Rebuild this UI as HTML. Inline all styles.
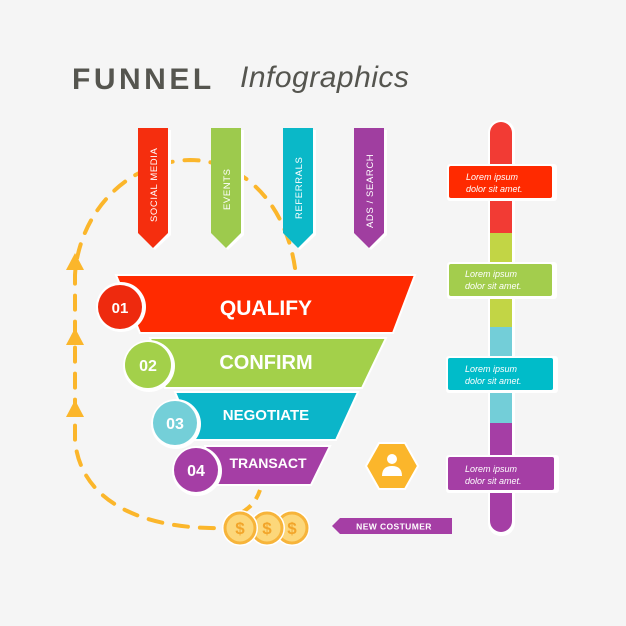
<!DOCTYPE html>
<html><head><meta charset="utf-8"><style>
html,body{margin:0;padding:0;background:#f5f5f5;}
svg{display:block;}
text{font-family:"Liberation Sans",sans-serif;}
</style></head><body>
<svg width="626" height="626" viewBox="0 0 626 626" xmlns="http://www.w3.org/2000/svg">
<rect width="626" height="626" fill="#f5f5f5"/>
<text x="72" y="89" font-size="30" font-weight="bold" fill="#55554f" letter-spacing="3.5">FUNNEL</text>
<text x="240" y="87" font-size="30" font-style="italic" font-family="Liberation Serif, serif" fill="#55554f" letter-spacing="0.5">Infographics</text>

<!-- dashed loop -->
<path d="M295 268 C285 200 240 160 190 160 C120 162 78 220 75 275 L75 440 C80 500 140 530 225 528" fill="none" stroke="#fbb62b" stroke-width="4" stroke-dasharray="14 12" stroke-linecap="round"/>
<path d="M260 490 C255 505 245 512 235 515" fill="none" stroke="#fbb62b" stroke-width="4" stroke-dasharray="10 8"/>
<polygon points="75,253 66,270 84,270" fill="#fbb62b"/>
<polygon points="75,328 66,345 84,345" fill="#fbb62b"/>
<polygon points="75,400 66,417 84,417" fill="#fbb62b"/>

<!-- tabs -->
<g>
<polygon points="140,130 171,130 171,235 155,250 140,235" fill="#fff"/>
<polygon points="138,128 168,128 168,233 153,248 138,233" fill="#f52e0e"/>
<text transform="translate(157,222) rotate(-90)" font-size="9.5" fill="#fff" letter-spacing="0.6">SOCIAL MEDIA</text>
<polygon points="213,130 244,130 244,235 228,250 213,235" fill="#fff"/>
<polygon points="211,128 241,128 241,233 226,248 211,233" fill="#9dca4d"/>
<text transform="translate(230,210) rotate(-90)" font-size="9.5" fill="#fff" letter-spacing="0.6">EVENTS</text>
<polygon points="285,130 316,130 316,235 300,250 285,235" fill="#fff"/>
<polygon points="283,128 313,128 313,233 298,248 283,233" fill="#0ab8c8"/>
<text transform="translate(302,219) rotate(-90)" font-size="9.5" fill="#fff" letter-spacing="0.6">REFERRALS</text>
<polygon points="356,130 387,130 387,235 371,250 356,235" fill="#fff"/>
<polygon points="354,128 384,128 384,233 369,248 354,233" fill="#a03ea0"/>
<text transform="translate(373,228) rotate(-90)" font-size="9.5" fill="#fff" letter-spacing="0.6">ADS / SEARCH</text>
</g>

<!-- funnel -->
<polygon points="116,275 415,275 393,333 140,333" fill="#ff2a00" stroke="#fff" stroke-width="2"/>
<polygon points="150,338 386,338 362,388 165,388" fill="#a3d04a" stroke="#fff" stroke-width="2"/>
<polygon points="175,392 358,392 336,440 195,440" fill="#0bb5c9" stroke="#fff" stroke-width="2"/>
<polygon points="205,446 330,446 311,485 215,485" fill="#a53ea5" stroke="#fff" stroke-width="2"/>
<text x="266" y="315" font-size="21" font-weight="bold" fill="#fff" text-anchor="middle">QUALIFY</text>
<text x="266" y="369" font-size="20" font-weight="bold" fill="#fff" text-anchor="middle">CONFIRM</text>
<text x="266" y="420" font-size="15" font-weight="bold" fill="#fff" text-anchor="middle">NEGOTIATE</text>
<text x="268" y="468" font-size="14" font-weight="bold" fill="#fff" text-anchor="middle">TRANSACT</text>

<circle cx="121" cy="307" r="25" fill="#fff"/><circle cx="120" cy="307" r="22" fill="#ee2a0e"/>
<text x="120" y="313" font-size="15" font-weight="bold" fill="#fff" text-anchor="middle">01</text>
<circle cx="149" cy="366" r="26" fill="#fff"/><circle cx="148" cy="365" r="23" fill="#a3d04a"/>
<text x="148" y="371" font-size="16" font-weight="bold" fill="#fff" text-anchor="middle">02</text>
<circle cx="176" cy="424" r="25" fill="#fff"/><circle cx="175" cy="423" r="22" fill="#74cfd8"/>
<text x="175" y="429" font-size="16" font-weight="bold" fill="#fff" text-anchor="middle">03</text>
<circle cx="197" cy="471" r="25" fill="#fff"/><circle cx="196" cy="470" r="22" fill="#a53ea5"/>
<text x="196" y="476" font-size="16" font-weight="bold" fill="#fff" text-anchor="middle">04</text>

<!-- hexagon -->
<polygon points="379,443 405,443 418,466 405,489 379,489 366,466" fill="#fbb62b" stroke="#fff" stroke-width="2"/>
<circle cx="392" cy="459" r="5" fill="#fff"/>
<path d="M382 476 Q382 466 392 466 Q402 466 402 476 Z" fill="#fff"/>

<!-- coins -->
<g font-size="17" font-weight="bold" fill="#f2a52a" text-anchor="middle">
<circle cx="292" cy="528" r="18" fill="#fff"/><circle cx="292" cy="528" r="15" fill="#fcd77a" stroke="#f7b43a" stroke-width="3"/><text x="292" y="534">$</text>
<circle cx="267" cy="528" r="18" fill="#fff"/><circle cx="267" cy="528" r="15" fill="#fcd77a" stroke="#f7b43a" stroke-width="3"/><text x="267" y="534">$</text>
<circle cx="240" cy="528" r="18" fill="#fff"/><circle cx="240" cy="528" r="15" fill="#fcd77a" stroke="#f7b43a" stroke-width="3"/><text x="240" y="534">$</text>
</g>

<!-- new costumer -->
<polygon points="340,518 452,518 452,534 340,534 332,526" fill="#a53ea5"/>
<text x="394" y="529.5" font-size="8.5" font-weight="bold" fill="#fff" text-anchor="middle" letter-spacing="0.4">NEW COSTUMER</text>

<!-- right bar -->
<rect x="488" y="120" width="27" height="416" rx="13" fill="#fff"/>
<path d="M490 133 A11 11 0 0 1 512 133 L512 233 L490 233 Z" fill="#f23b34"/>
<rect x="490" y="233" width="22" height="94" fill="#c2d545"/>
<rect x="490" y="327" width="22" height="96" fill="#73ced8"/>
<path d="M490 423 L512 423 L512 521 A11 11 0 0 1 490 521 Z" fill="#a53ea5"/>

<g font-size="9" font-style="italic" fill="#fff">
<rect x="447" y="164" width="110" height="37" rx="3" fill="#fff"/>
<rect x="449" y="166" width="103" height="32" rx="2" fill="#ff2a00"/>
<text x="466" y="180">Lorem ipsum</text><text x="466" y="192">dolor sit amet.</text>
<rect x="447" y="262" width="110" height="37" rx="3" fill="#fff"/>
<rect x="449" y="264" width="103" height="32" rx="2" fill="#a3cd4d"/>
<text x="465" y="277">Lorem ipsum</text><text x="465" y="289">dolor sit amet.</text>
<rect x="446" y="356" width="112" height="37" rx="3" fill="#fff"/>
<rect x="448" y="358" width="105" height="32" rx="2" fill="#00bcc9"/>
<text x="465" y="372">Lorem ipsum</text><text x="465" y="384">dolor sit amet.</text>
<rect x="446" y="455" width="113" height="38" rx="3" fill="#fff"/>
<rect x="448" y="457" width="106" height="33" rx="2" fill="#a53ea5"/>
<text x="465" y="472">Lorem ipsum</text><text x="465" y="484">dolor sit amet.</text>
</g>
</svg>
</body></html>
